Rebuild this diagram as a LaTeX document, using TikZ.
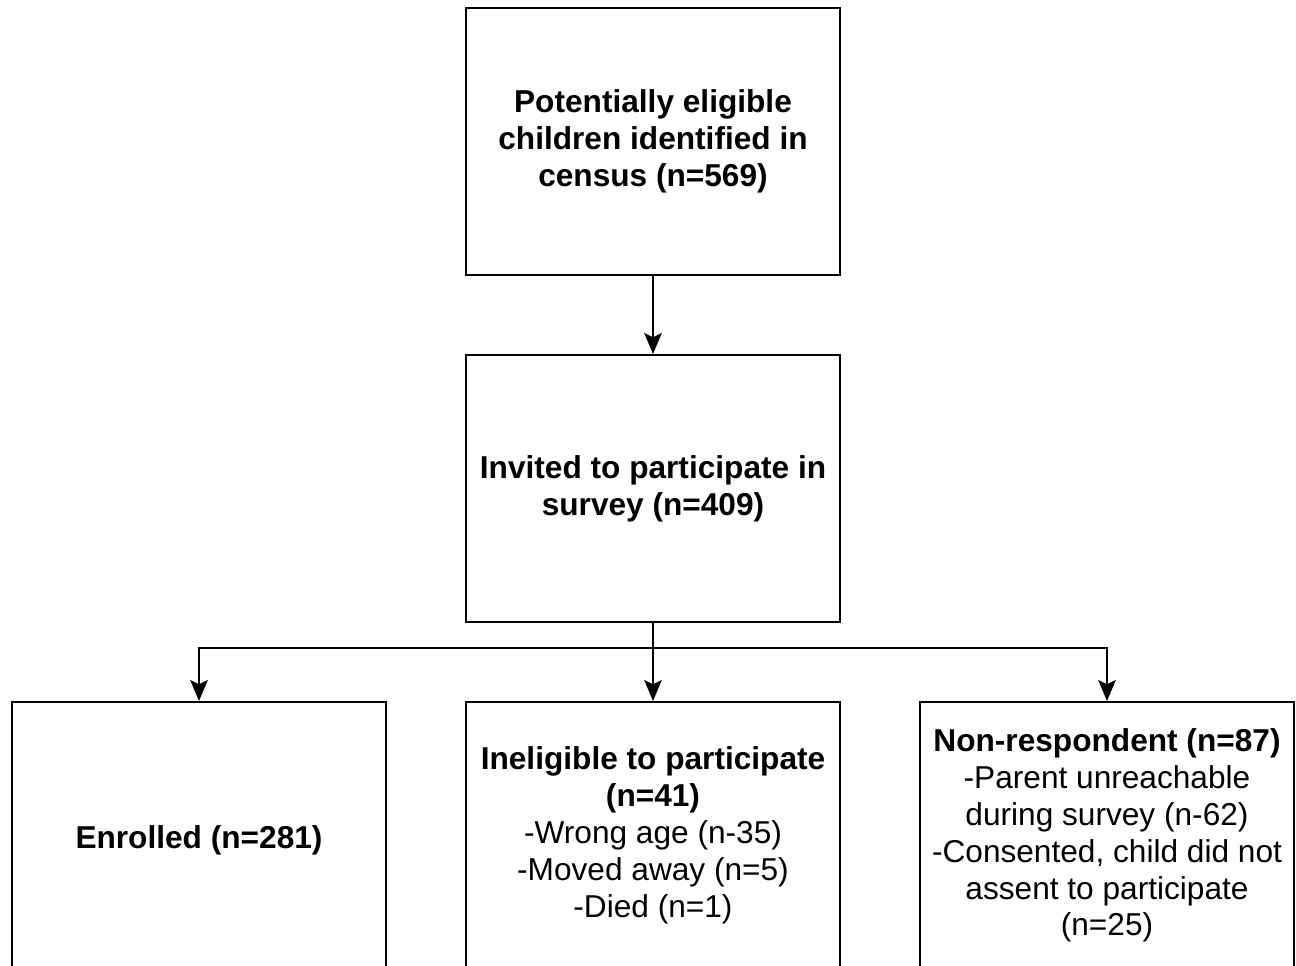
\documentclass[tikz,border=0pt]{standalone}
\usepackage{fontspec}
\setmainfont{Liberation Sans}
\usetikzlibrary{arrows.meta}
\tikzset{
  box/.style={draw, line width=1.1pt, minimum width=7.48cm, minimum height=5.34cm,
    align=center, inner sep=0pt, font=\fontsize{18}{21}\selectfont,
    execute at begin node={\rule{0pt}{18pt}}},
  flow/.style={line width=1.1pt, -{Stealth[length=12pt,width=10pt,inset=2.5pt]}}
}
\begin{document}
\begin{tikzpicture}
      \useasboundingbox (0,0) rectangle (25.92,-19.32);
      \clip (0,0) rectangle (25.92,-19.32);
      \fill[white] (0,0) rectangle (25.92,-19.32);
      \node[box] (census) at (13.06,-2.83)
        {\bfseries Potentially eligible\\\bfseries children identified in\\\bfseries census (n=569)};
      \node[box] (invited) at (13.06,-9.77)
        {\bfseries Invited to participate in\\\bfseries survey (n=409)};
      \node[box] (enrolled) at (3.98,-16.71) {\bfseries Enrolled (n=281)};
      \node[box] (inelig) at (13.06,-16.71)
        {\bfseries Ineligible to participate\\\bfseries (n=41)\\-Wrong age (n-35)\\-Moved away (n=5)\\-Died (n=1)};
      \node[box] (nonresp) at (22.14,-16.71)
        {\bfseries Non-respondent (n=87)\\-Parent unreachable\\during survey (n-62)\\-Consented, child did not\\assent to participate\\(n=25)};
      \coordinate (split) at (13.06,-12.96);
      \draw[line width=1.1pt] (invited) to (split);
      \begin{scope}[flow]
        \draw (census) to (invited);
        \draw (split) -| (enrolled);
        \draw (split) to (inelig);
        \draw (split) -| (nonresp);
      \end{scope}
    \end{tikzpicture}
\end{document}
